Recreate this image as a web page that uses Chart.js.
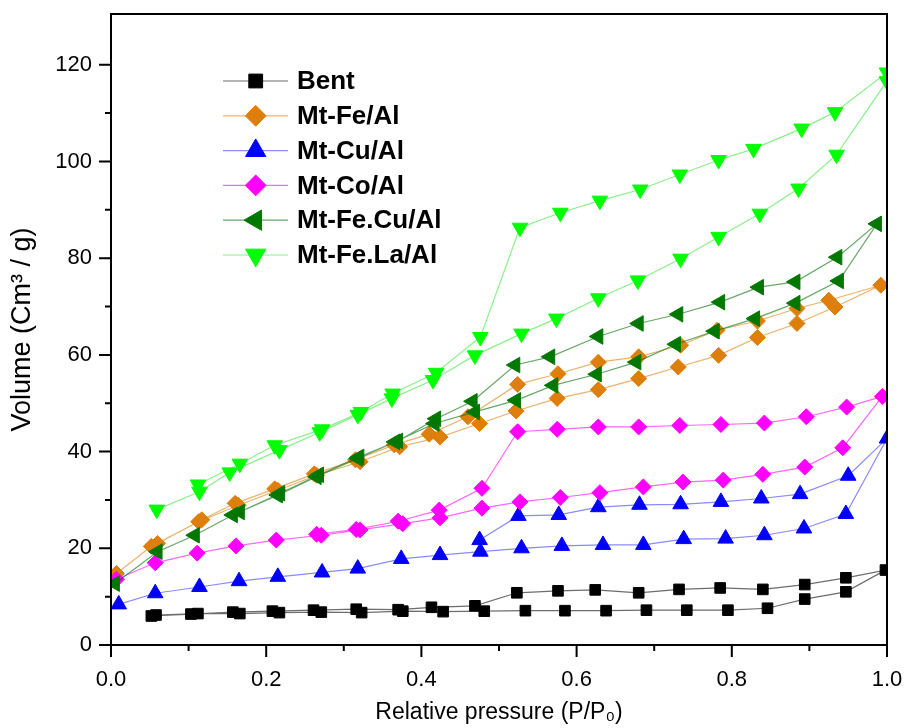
<!DOCTYPE html>
<html>
<head>
<meta charset="utf-8">
<title>N2 isotherms</title>
<script src="https://cdn.jsdelivr.net/npm/chart.js@4.4.1/dist/chart.umd.min.js"></script>
<style>
  html, body { margin: 0; padding: 0; background: #fff; }
  #wrap { width: 909px; height: 728px; }
</style>
</head>
<body>
<div id="wrap"><canvas id="isoChart" width="909" height="728"></canvas></div>
<script>
// relative pressure (P/P0) and volume, adsorption branch then desorption branch
var bentP = [0.058, 0.112, 0.166, 0.217, 0.271, 0.323, 0.376, 0.428, 0.481, 0.534, 0.585, 0.638, 0.690, 0.742, 0.795, 0.846, 0.894, 0.947, 0.998,
             0.947, 0.894, 0.840, 0.785, 0.732, 0.680, 0.624, 0.576, 0.523, 0.469, 0.413, 0.370, 0.316, 0.261, 0.208, 0.157, 0.103, 0.052];
var bentV = [6.2, 6.5, 6.5, 6.7, 6.8, 6.7, 7.0, 6.9, 7.0, 7.1, 7.1, 7.1, 7.2, 7.2, 7.2, 7.6, 9.5, 11.0, 15.5,
             13.9, 12.5, 11.5, 11.8, 11.5, 10.8, 11.4, 11.2, 10.8, 8.1, 7.8, 7.3, 7.4, 7.2, 7.0, 6.8, 6.4, 6.0];

var feAlP = [0.007, 0.052, 0.113, 0.164, 0.215, 0.265, 0.321, 0.372, 0.424, 0.475, 0.522, 0.575, 0.628, 0.680, 0.731, 0.783, 0.833, 0.884, 0.933, 0.992,
             0.925, 0.884, 0.833, 0.781, 0.734, 0.680, 0.628, 0.576, 0.524, 0.460, 0.410, 0.365, 0.315, 0.262, 0.211, 0.160, 0.117, 0.060];
var feAlV = [14.8, 20.4, 25.5, 28.9, 32.0, 35.1, 37.9, 41.0, 43.0, 45.8, 48.4, 51.0, 52.8, 55.1, 57.5, 59.9, 63.6, 66.5, 69.9, 74.4,
             71.3, 69.6, 67.0, 65.1, 62.0, 59.6, 58.5, 56.1, 53.9, 47.2, 43.6, 41.4, 38.3, 35.4, 32.3, 29.3, 25.9, 21.0];

var cuP = [0.010, 0.057, 0.114, 0.165, 0.215, 0.272, 0.318, 0.374, 0.424, 0.476, 0.529, 0.581, 0.634, 0.686, 0.738, 0.792, 0.842, 0.893, 0.947, 1.0,
           0.950, 0.888, 0.838, 0.786, 0.734, 0.681, 0.628, 0.577, 0.525, 0.475];
var cuV = [8.4, 10.7, 12.0, 13.2, 14.1, 15.0, 15.8, 17.8, 18.6, 19.3, 20.0, 20.5, 20.7, 20.7, 21.9, 22.0, 22.7, 24.1, 27.1, 42.7,
           35.0, 31.2, 30.3, 29.6, 29.1, 29.0, 28.5, 26.9, 26.7, 21.7];

var coP = [0.007, 0.057, 0.111, 0.161, 0.213, 0.271, 0.321, 0.376, 0.424, 0.478, 0.527, 0.579, 0.630, 0.686, 0.737, 0.789, 0.840, 0.894, 0.943, 0.994,
           0.948, 0.896, 0.842, 0.786, 0.733, 0.680, 0.628, 0.575, 0.524, 0.478, 0.423, 0.370, 0.316, 0.265];
var coV = [13.6, 17.0, 19.0, 20.5, 21.7, 22.7, 23.8, 25.1, 26.3, 28.3, 29.6, 30.5, 31.5, 32.7, 33.7, 34.1, 35.3, 36.8, 40.8, 51.4,
           49.2, 47.2, 45.9, 45.6, 45.4, 45.1, 45.1, 44.6, 44.1, 32.4, 27.9, 25.6, 23.9, 22.9];

var feCuP = [0.005, 0.060, 0.108, 0.157, 0.215, 0.265, 0.318, 0.366, 0.417, 0.469, 0.522, 0.570, 0.626, 0.677, 0.728, 0.778, 0.830, 0.882, 0.938, 0.987,
             0.936, 0.882, 0.835, 0.785, 0.731, 0.680, 0.628, 0.566, 0.521, 0.466, 0.419, 0.370, 0.320, 0.268, 0.218, 0.166];
var feCuV = [12.7, 19.3, 22.7, 26.9, 31.0, 34.8, 38.6, 42.0, 45.8, 48.2, 50.6, 53.7, 56.0, 58.5, 62.2, 64.9, 67.5, 70.7, 75.3, 87.1,
             80.2, 75.1, 74.0, 70.9, 68.4, 66.5, 63.8, 59.6, 57.9, 50.4, 46.8, 42.2, 38.9, 35.2, 31.4, 27.5];

var feLaP = [0.059, 0.114, 0.153, 0.217, 0.269, 0.318, 0.362, 0.415, 0.469, 0.529, 0.574, 0.628, 0.679, 0.734, 0.783, 0.836, 0.886, 0.935, 1.0,
             1.0, 0.933, 0.890, 0.828, 0.783, 0.733, 0.682, 0.630, 0.579, 0.527, 0.476, 0.419, 0.363, 0.322, 0.272, 0.211, 0.166, 0.112];
var feLaV = [28.0, 31.7, 35.7, 40.3, 44.0, 47.6, 51.0, 54.8, 59.9, 64.4, 67.5, 71.7, 75.4, 79.9, 84.4, 89.2, 94.4, 101.4, 116.6,
             118.4, 110.2, 106.8, 102.6, 100.3, 97.3, 94.2, 91.9, 89.4, 86.3, 63.7, 56.3, 52.0, 48.2, 44.6, 41.3, 37.5, 33.2];

var seriesNames = ["Bent", "Mt-Fe/Al", "Mt-Cu/Al", "Mt-Co/Al", "Mt-Fe.Cu/Al", "Mt-Fe.La/Al"];
var xTicks = [0, 0.1, 0.2, 0.3, 0.4, 0.5, 0.6, 0.7, 0.8, 0.9, 1.0];
var yTicks = [0, 10, 20, 30, 40, 50, 60, 70, 80, 90, 100, 110, 120];

var FONT = '"Liberation Sans", Arial, sans-serif';
Chart.defaults.font.family = FONT;
Chart.defaults.color = '#000';

function pts(px, py) {
	return px.map(function(p, i) { return { x: p, y: py[i] }; });
}

// marker look for each series
var looks = [
	{ data: pts(bentP, bentV),  color: '#000000', line: 'rgba(60,60,60,0.75)',    style: 'rect',     rot: 0,   r: 7.5 },
	{ data: pts(feAlP, feAlV),  color: '#DD7F0A', line: 'rgba(221,127,10,0.6)',   style: 'rectRot',  rot: 0,   r: 8 },
	{ data: pts(cuP, cuV),      color: '#0000FF', line: 'rgba(60,60,255,0.6)',    style: 'triangle', rot: 0,   r: 9 },
	{ data: pts(coP, coV),      color: '#FF00FF', line: 'rgba(255,0,255,0.6)',    style: 'rectRot',  rot: 0,   r: 8 },
	{ data: pts(feCuP, feCuV),  color: '#007800', line: 'rgba(0,110,0,0.6)',      style: 'triangle', rot: 270, r: 9 },
	{ data: pts(feLaP, feLaV),  color: '#00FF00', line: 'rgba(60,230,60,0.6)',    style: 'triangle', rot: 180, r: 9 }
];

var datasets = looks.map(function(s, i) {
	return {
		label: seriesNames[i],
		data: s.data,
		showLine: true,
		borderColor: s.line,
		borderWidth: 1.2,
		pointStyle: s.style,
		pointRotation: s.rot,
		pointRadius: s.r,
		pointHoverRadius: s.r,
		pointBackgroundColor: s.color,
		pointBorderColor: s.color,
		pointBorderWidth: 1,
		order: looks.length - i
	};
});

// box frame and outward ticks (long on labelled ticks)
var frameTicks = {
	id: 'frameTicks',
	afterDatasetsDraw: function(chart) {
		var ctx = chart.ctx, a = chart.chartArea;
		var xs = chart.scales.x, ys = chart.scales.y;
		ctx.save();
		ctx.strokeStyle = '#000';
		ctx.lineWidth = 2;
		ctx.strokeRect(a.left, a.top, a.right - a.left, a.bottom - a.top);
		ctx.beginPath();
		xs.ticks.forEach(function(t, i) {
			var px = xs.getPixelForValue(t.value);
			var len = (i % 2 === 0) ? 12 : 6;
			ctx.moveTo(px, a.bottom);
			ctx.lineTo(px, a.bottom + len);
		});
		ys.ticks.forEach(function(t, i) {
			var py = ys.getPixelForValue(t.value);
			var len = (i % 2 === 0) ? 12 : 6;
			ctx.moveTo(a.left, py);
			ctx.lineTo(a.left - len, py);
		});
		ctx.stroke();
		ctx.restore();
	}
};

// legend inside the plot, top left
var innerLegend = {
	id: 'innerLegend',
	afterDraw: function(chart) {
		var ctx = chart.ctx;
		chart.data.datasets.forEach(function(ds, i) {
			var y = 81 + i * 34.8;
			ctx.save();
			ctx.strokeStyle = ds.borderColor;
			ctx.lineWidth = 1.2;
			ctx.beginPath();
			ctx.moveTo(223, y);
			ctx.lineTo(288, y);
			ctx.stroke();
			ctx.fillStyle = ds.pointBackgroundColor;
			ctx.strokeStyle = ds.pointBorderColor;
			ctx.lineWidth = 1;
			Chart.helpers.drawPoint(ctx, {
				pointStyle: ds.pointStyle,
				rotation: ds.pointRotation,
				radius: ds.pointRadius * 1.3,
				borderWidth: 1
			}, 255.7, y);
			ctx.fillStyle = '#000';
			ctx.font = 'bold 26px ' + FONT;
			ctx.textBaseline = 'middle';
			ctx.textAlign = 'left';
			ctx.fillText(ds.label, 297, y + 1);
			ctx.restore();
		});
	}
};

var chart = new Chart(document.getElementById('isoChart'), {
	type: 'scatter',
	data: { datasets: datasets },
	options: {
		responsive: false,
		animation: false,
		devicePixelRatio: 1,
		layout: { padding: { top: 14, right: 22, left: 0, bottom: 0 } },
		plugins: {
			legend: { display: false },
			tooltip: { enabled: false }
		},
		scales: {
			x: {
				type: 'linear',
				min: 0,
				max: 1,
				grid: { display: false },
				border: { display: false },
				afterBuildTicks: function(scale) {
					scale.ticks = xTicks.map(function(v) { return { value: v }; });
				},
				afterFit: function(scale) {
					scale.height = 83;
					scale.paddingLeft = 0; scale.paddingRight = 0;
					scale.paddingTop = 0; scale.paddingBottom = 0;
				},
				ticks: {
					autoSkip: false,
					maxRotation: 0,
					padding: 14,
					font: { size: 22 },
					callback: function(value, index) {
						return index % 2 === 0 ? Number(value).toFixed(1) : '';
					}
				},
				title: {
					display: true,
					text: 'Relative pressure (P/P\u2080)',
					font: { size: 23 },
					padding: { top: 0, bottom: 2 }
				}
			},
			y: {
				type: 'linear',
				min: 0,
				max: 130.5,
				grid: { display: false },
				border: { display: false },
				afterBuildTicks: function(scale) {
					scale.ticks = yTicks.map(function(v) { return { value: v }; });
				},
				afterFit: function(scale) {
					scale.width = 111;
					scale.paddingLeft = 0; scale.paddingRight = 0;
					scale.paddingTop = 0; scale.paddingBottom = 0;
				},
				ticks: {
					autoSkip: false,
					padding: 11,
					font: { size: 22 },
					callback: function(value, index) {
						return index % 2 === 0 ? String(value) : '';
					}
				},
				title: {
					display: true,
					text: 'Volume (Cm\u00B3 / g)',
					font: { size: 27 },
					padding: { top: 6, bottom: 0 }
				}
			}
		}
	},
	plugins: [frameTicks, innerLegend]
});
</script>
</body>
</html>
